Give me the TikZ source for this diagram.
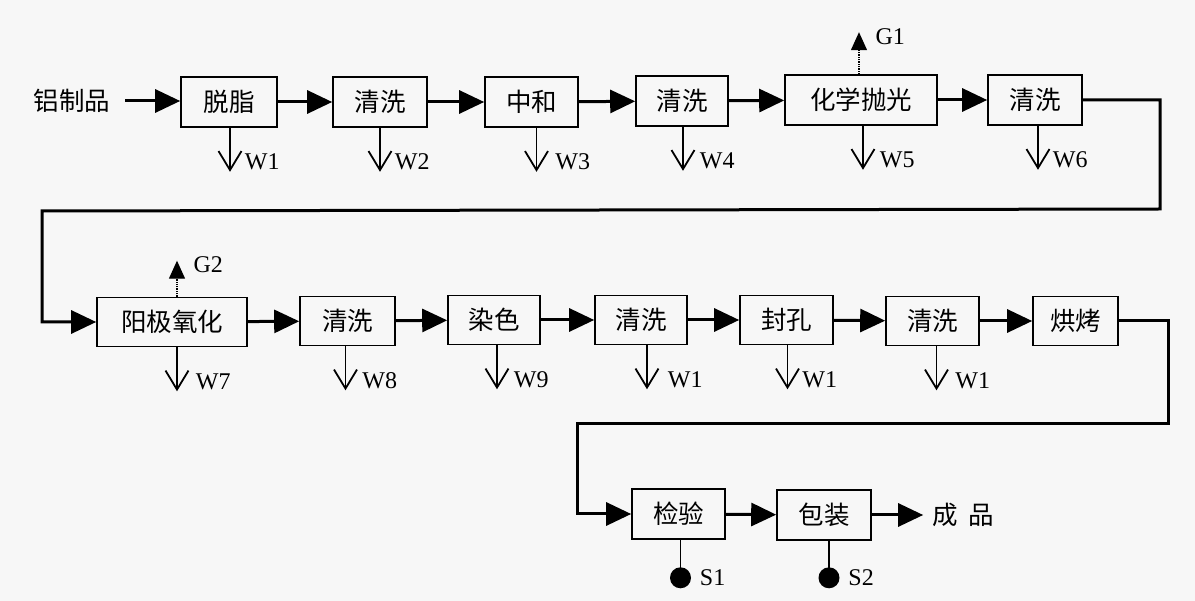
\documentclass[tikz,border=0pt]{standalone}
\usepackage{fontspec}
\setmainfont{Liberation Serif}
\newfontfamily\cjk{Noto Sans CJK SC}
\usetikzlibrary{arrows.meta}
\begin{document}
\begin{tikzpicture}[x=1pt,y=-1pt,line join=miter,
  box/.style={draw,line width=1.6pt,minimum height=50pt,inner sep=0pt,font=\cjk\fontsize{25.5}{29}\selectfont},
  plain/.style={inner sep=0pt,font=\cjk\fontsize{25.5}{29}\selectfont},
  flow/.style={line width=3pt,-{Triangle[length=25pt,width=23pt]}},
  wout/.style={line width=1.8pt,-{Straight Barb[length=19pt,width=23pt]}},
  gout/.style={line width=1.3pt,densely dotted,-{Triangle[length=18pt,width=16pt]}},
  sline/.style={line width=1.5pt},
  sdot/.style={circle,fill=black,minimum size=21pt,inner sep=0pt},
  lab/.style={anchor=west,inner sep=0pt,font=\fontsize{24}{28}\selectfont}
]
\fill[black!3] (0,0) rectangle (1195,601);
\useasboundingbox (0,0) rectangle (1195,601);

% row 1
\node[plain] (in) at (72,101) {铝制品};
\node[box,minimum width=96pt] (b1) at (229,102) {脱脂};
\node[box,minimum width=94pt] (b2) at (380,102) {清洗};
\node[box,minimum width=93pt] (b3) at (531.5,102) {中和};
\node[box,minimum width=92pt] (b4) at (682,101) {清洗};
\node[box,minimum width=152pt] (b5) at (861,100) {化学抛光};
\node[box,minimum width=94pt] (b6) at (1035,100) {清洗};

\draw[flow,shorten <=15pt] (in.east) -- (in.east -| b1.west);
\draw[flow] (b1) -- (b2);
\draw[flow] (b2) -- (b3);
\draw[flow] (b3) -- (b4);
\draw[flow] (b4) -- (b5);
\draw[flow] (b5) -- (b6);

\draw[wout] ([xshift=1pt]b1.south) -- ++(0,44) node[lab,pos=0.78,xshift=14pt]{W1};
\draw[wout] ([xshift=0pt]b2.south) -- ++(0,44) node[lab,pos=0.78,xshift=14pt]{W2};
\draw[wout] ([xshift=5pt]b3.south) -- ++(0,44) node[lab,pos=0.78,xshift=18pt]{W3};
\draw[wout] ([xshift=1pt]b4.south) -- ++(0,44) node[lab,pos=0.78,xshift=16pt]{W4};
\draw[wout] ([xshift=2pt]b5.south) -- ++(0,44) node[lab,pos=0.78,xshift=16pt]{W5};
\draw[wout] ([xshift=3pt]b6.south) -- ++(0,44) node[lab,pos=0.78,xshift=14pt]{W6};

\draw[gout] ([xshift=-2pt]b5.north) -- ++(0,-42) node[lab,pos=0.9,xshift=16pt]{G1};

% row 2
\node[box,minimum width=150pt,minimum height=49pt] (c1) at (172,322) {阳极氧化};
\node[box,minimum width=95pt,minimum height=49pt] (c2) at (347.5,321) {清洗};
\node[box,minimum width=92pt,minimum height=49pt] (c3) at (494,320) {染色};
\node[box,minimum width=92pt,minimum height=49pt] (c4) at (641,320) {清洗};
\node[box,minimum width=93pt,minimum height=49pt] (c5) at (786.5,320) {封孔};
\node[box,minimum width=93pt,minimum height=49pt] (c6) at (932.5,321) {清洗};
\node[box,minimum width=85pt,minimum height=49pt] (c7) at (1075.5,321) {烘烤};

\coordinate (t1) at (1160,209);
\coordinate (t2) at (42,211);
\draw[flow] (b6.east) -| (t1) -- (t2) |- (c1.west);

\draw[flow] (c1) -- (c2);
\draw[flow] (c2) -- (c3);
\draw[flow] (c3) -- (c4);
\draw[flow] (c4) -- (c5);
\draw[flow] (c5) -- (c6);
\draw[flow] (c6) -- (c7);

\draw[wout] ([xshift=5pt]c1.south) -- ++(0,44) node[lab,pos=0.78,xshift=18pt]{W7};
\draw[wout] ([xshift=-2pt]c2.south) -- ++(0,44) node[lab,pos=0.78,xshift=16pt]{W8};
\draw[wout] ([xshift=3pt]c3.south) -- ++(0,44) node[lab,pos=0.78,xshift=16pt]{W9};
\draw[wout] ([xshift=6pt]c4.south) -- ++(0,44) node[lab,pos=0.78,xshift=20pt]{W1};
\draw[wout] ([xshift=1pt]c5.south) -- ++(0,44) node[lab,pos=0.78,xshift=14pt]{W1};
\draw[wout] ([xshift=4pt]c6.south) -- ++(0,44) node[lab,pos=0.78,xshift=18pt]{W1};

\draw[gout] ([xshift=5pt]c1.north) -- ++(0,-36) node[lab,pos=0.88,xshift=16pt]{G2};

% row 3
\node[box,minimum width=93pt] (d1) at (678.5,514) {检验};
\node[box,minimum width=94pt] (d2) at (824,515) {包装};
\node[plain] (out) at (963,515) {成\hspace{0.4em}品};

\coordinate (t3) at (1168,424);
\coordinate (t4) at (577,424);
\draw[flow] (c7.east) -| (t3) -- (t4) |- (d1.west);
\draw[flow] (d1) -- (d2);
\draw[flow,shorten >=9pt] (d2.east) -- (d2.east -| out.west);

\draw[sline] ([xshift=2pt]d1.south) -- ++(0,38) node[sdot] (s1) {};
\node[lab] at ([xshift=8pt]s1.east) {S1};
\draw[sline] ([xshift=5pt]d2.south) -- ++(0,37) node[sdot] (s2) {};
\node[lab] at ([xshift=8pt]s2.east) {S2};
\end{tikzpicture}
\end{document}
